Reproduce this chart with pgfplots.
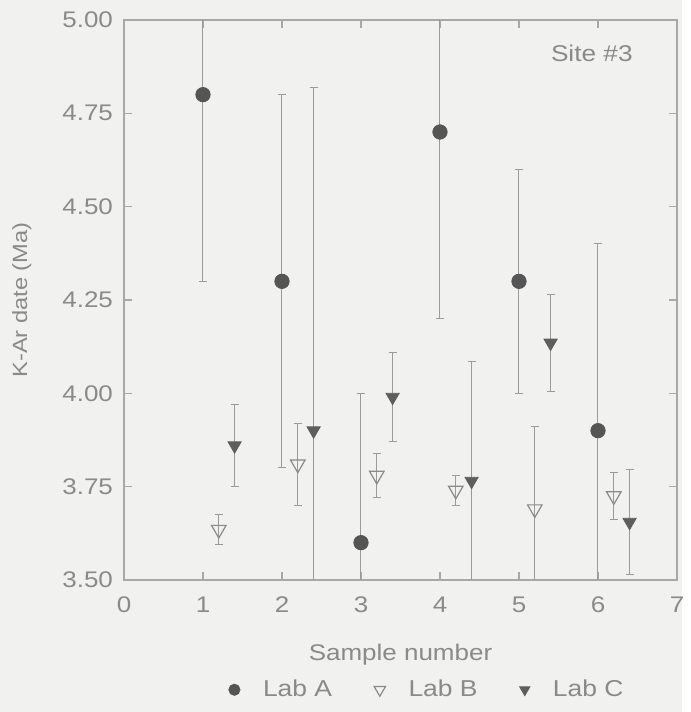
\documentclass[border=0pt]{standalone}
\usepackage{pgfplots}
\pgfplotsset{compat=1.18}
\usepackage{fontspec}
\setmainfont{Liberation Sans}[FakeStretch=1.15]
\usetikzlibrary{backgrounds}
\definecolor{bg}{HTML}{F1F1EF}
\definecolor{txt}{HTML}{8A8A8A}
\definecolor{axc}{HTML}{A8A8A8}
\definecolor{errc}{HTML}{9A9A9A}
\definecolor{mkA}{HTML}{555555}
\definecolor{mkB}{HTML}{8A8A8A}
\definecolor{mkC}{HTML}{5E5E5E}
\pgfplotstableread{
x y e
1 4.80 0.50
2 4.30 0.50
3 3.60 0.40
4 4.70 0.50
5 4.30 0.30
6 3.90 0.50
}\labA
\pgfplotstableread{
x y e
1.2 3.635 0.04
2.2 3.81 0.11
3.2 3.78 0.06
4.2 3.74 0.04
5.2 3.69 0.22
6.2 3.725 0.062
}\labB
\pgfplotstableread{
x y e
1.4 3.86 0.11
2.4 3.90 0.92
3.4 3.99 0.12
4.4 3.765 0.32
5.4 4.135 0.13
6.4 3.655 0.14
}\labC
\begin{document}
\begin{tikzpicture}
\begin{axis}[
  scale only axis,
  width=276.5pt, height=280pt,
  xmin=0, xmax=7, ymin=3.5, ymax=5.0,
  xtick={0,1,...,7},
  ytick={3.5,3.75,4,4.25,4.5,4.75,5},
  y tick label style={/pgf/number format/fixed, /pgf/number format/fixed zerofill, /pgf/number format/precision=2},
  /pgf/number format/assume math mode=true,
  tick align=inside,
  major tick length=4pt,
  axis line style={axc, line width=0.6pt},
  tick style={axc, line width=0.6pt},
  ticklabel style={txt, font=\fontsize{11.3}{13}\selectfont},
  xticklabel style={yshift=-5pt},
  yticklabel style={xshift=-2pt},
  xlabel={Sample number},
  ylabel={K-Ar date (Ma)},
  label style={txt, font=\fontsize{11.3}{13}\selectfont},
  xlabel style={at={(axis description cs:0.5,-0.134)}, anchor=center},
  ylabel style={at={(axis description cs:-0.185,0.5)}, anchor=center, rotate=0, font=\fontsize{10.3}{12}\selectfont},
  legend columns=3,
  legend style={at={(axis description cs:0.55,-0.196)}, anchor=center, draw=none, fill=none,
    font=\fontsize{11.5}{13}\selectfont, text=txt,
    /tikz/every even column/.append style={column sep=19pt},
    /tikz/every odd column/.append style={column sep=9.5pt}},
  legend image code/.code={\draw[mark repeat=2,mark phase=2,/tikz/every mark/.append style={scale=0.78}] plot coordinates {(0cm,0cm) (0.3cm,0cm) (0.6cm,0cm)};},
  error bars/error mark options={mark size=2pt, line width=0.5pt, errc, rotate=90},
  error bars/error bar style={line width=0.5pt, errc},
]
\addplot[only marks, mark=*, mark size=3.6pt, mark options={fill=mkA, draw=mkA},
  error bars/.cd, y dir=both, y explicit]
  table[x=x, y=y, y error=e] {\labA};
\addlegendentry{Lab A}
\addplot[only marks, mark=triangle, mark size=4.2pt, mark options={draw=mkB, fill=bg, rotate=180, line width=0.6pt},
  error bars/.cd, y dir=both, y explicit]
  table[x=x, y=y, y error=e] {\labB};
\addlegendentry{Lab B}
\addplot[only marks, mark=triangle*, mark size=3.8pt, mark options={draw=mkC, fill=mkC, rotate=180},
  error bars/.cd, y dir=both, y explicit]
  table[x=x, y=y, y error=e] {\labC};
\addlegendentry{Lab C}
\node[txt, font=\fontsize{11.4}{13}\selectfont] at (rel axis cs:0.846,0.941) {Site \#3};
\coordinate (bl) at ([shift={(-62pt,-66pt)}]rel axis cs:0,0);
\coordinate (tr) at ([shift={(2.5pt,10pt)}]rel axis cs:1,1);
\end{axis}
\begin{scope}[on background layer]
\fill[bg] (bl) rectangle (tr);
\end{scope}
\end{tikzpicture}
\end{document}
